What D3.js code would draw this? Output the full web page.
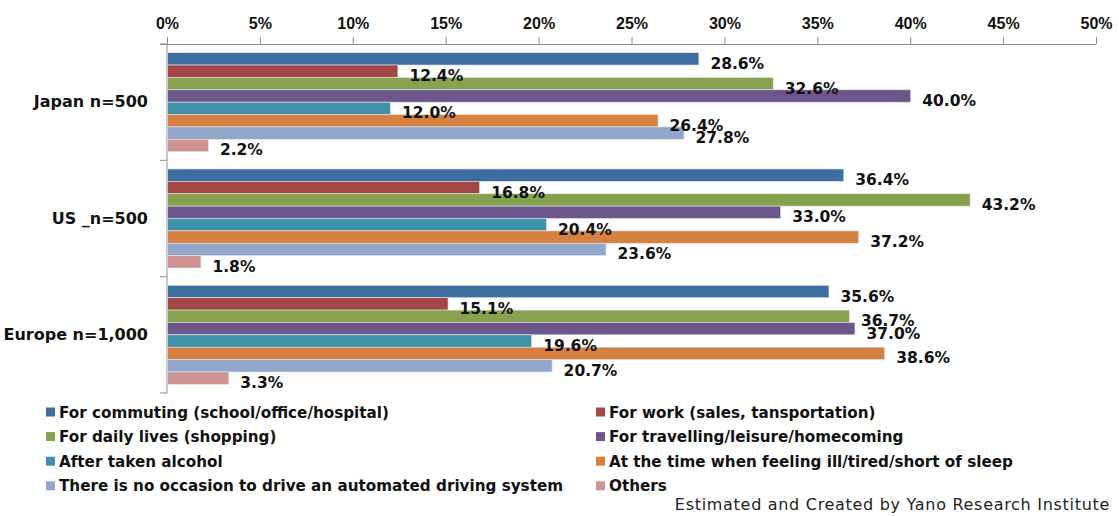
<!DOCTYPE html>
<html>
<head>
<meta charset="utf-8">
<script src="https://cdn.jsdelivr.net/npm/d3@7"></script>
<style>
  body { margin: 0; background: #fff; }
  svg { display: block; font-family: "DejaVu Sans", sans-serif; }
  .tick-lab { font-weight: bold; font-size: 16px; fill: #111; }
  .cat-lab { font-weight: bold; font-size: 16px; fill: #111; }
  .val-lab { font-weight: bold; font-size: 15.5px; fill: #111; }
  .leg-lab { font-weight: bold; font-size: 15.2px; fill: #111; }
  .src { font-size: 16px; fill: #222; letter-spacing: 0.7px; }
</style>
</head>
<body>
<div id="chart"></div>
<script>
// categories (top to bottom)
var groups = ["Japan n=500", "US _n=500", "Europe n=1,000"];

// series in drawing order
var seriesNames = [
  "For commuting (school/office/hospital)",
  "For work (sales, tansportation)",
  "For daily lives (shopping)",
  "For travelling/leisure/homecoming",
  "After taken alcohol",
  "At the time when feeling ill/tired/short of sleep",
  "There is no occasion to drive an automated driving system",
  "Others"
];
var seriesColors = ["#3e6e9f", "#a24646", "#87a24e", "#6d568b", "#4192a8", "#d6813f", "#93a7cd", "#d09393"];

// percent values per group, in series order
var japanValues = [28.6, 12.4, 32.6, 40.0, 12.0, 26.4, 27.8, 2.2];
var usValues = [36.4, 16.8, 43.2, 33.0, 20.4, 37.2, 23.6, 1.8];
var europeValues = [35.6, 15.1, 36.7, 37.0, 19.6, 38.6, 20.7, 3.3];

var xTicks = [0, 5, 10, 15, 20, 25, 30, 35, 40, 45, 50];
var sourceNote = "Estimated and Created by Yano Research Institute";

var valuesByGroup = [japanValues, usValues, europeValues];

var width = 1119, height = 516;
var svg = d3.select("#chart").append("svg").attr("width", width).attr("height", height);

var x = d3.scaleLinear().domain([0, 50]).range([167, 1096]);
var y0 = d3.scaleBand().domain(groups).range([44, 393]);
var y1 = d3.scaleBand().domain(d3.range(seriesNames.length)).range([0, y0.bandwidth()]).paddingOuter(0.7);

/// top axis
var xAxis = d3.axisTop(x).tickValues(xTicks).tickSize(7).tickFormat(function (d) { return d + "%"; });
var gx = svg.append("g").attr("transform", "translate(0,44)").call(xAxis);
gx.select(".domain").attr("stroke", "#8c8c8c").attr("d", "M160,0.5H1096");
gx.selectAll(".tick line").attr("stroke", "#8c8c8c");
gx.selectAll(".tick text").attr("class", "tick-lab").attr("y", -15).attr("fill", null);

/// left axis line and ticks at band edges
svg.append("line").attr("x1", 167).attr("x2", 167).attr("y1", 44).attr("y2", 393).attr("stroke", "#8c8c8c");
var edges = groups.map(function (g) { return y0(g); }).concat([y0.range()[1]]);
svg.selectAll(".ytick").data(edges).enter().append("line")
  .attr("x1", 160).attr("x2", 167)
  .attr("y1", function (d) { return d; }).attr("y2", function (d) { return d; })
  .attr("stroke", "#8c8c8c");

svg.selectAll(".cat-lab").data(groups).enter().append("text")
  .attr("class", "cat-lab")
  .attr("x", 148)
  .attr("y", function (d) { return y0(d) + y0.bandwidth() / 2 + 5; })
  .attr("text-anchor", "end")
  .text(function (d) { return d; });

/// bars
var gGroups = svg.selectAll(".grp").data(groups).enter().append("g")
  .attr("transform", function (d) { return "translate(0," + y0(d) + ")"; });

gGroups.each(function (g, gi) {
  var sel = d3.select(this);
  var vals = valuesByGroup[gi];
  sel.selectAll("rect").data(vals).enter().append("rect")
    .attr("x", x(0) + 0.5)
    .attr("y", function (d, i) { return y1(i); })
    .attr("width", function (d) { return x(d) - x(0); })
    .attr("height", y1.bandwidth())
    .attr("fill", function (d, i) { return seriesColors[i]; })
    .attr("stroke", "#dfe6f0").attr("stroke-width", 0.6);
  sel.selectAll("text").data(vals).enter().append("text")
    .attr("class", "val-lab")
    .attr("x", function (d) { return x(d) + 12; })
    .attr("y", function (d, i) { return y1(i) + y1.bandwidth() / 2 + 10; })
    .text(function (d) { return d.toFixed(1) + "%"; });
});

/// legend, two columns
var legX = [46, 596], legY0 = 412, legStep = 24.6;
var leg = svg.selectAll(".leg").data(seriesNames).enter().append("g")
  .attr("transform", function (d, i) {
    return "translate(" + legX[i % 2] + "," + (legY0 + Math.floor(i / 2) * legStep) + ")";
  });
leg.append("rect").attr("x", 0).attr("y", -4.5).attr("width", 9).attr("height", 9)
  .attr("fill", function (d, i) { return seriesColors[i]; });
leg.append("text").attr("class", "leg-lab").attr("x", 13).attr("y", 5.5).text(function (d) { return d; });

svg.append("text").attr("class", "src").attr("x", 1110).attr("y", 510)
  .attr("text-anchor", "end").text(sourceNote);
</script>
</body>
</html>
